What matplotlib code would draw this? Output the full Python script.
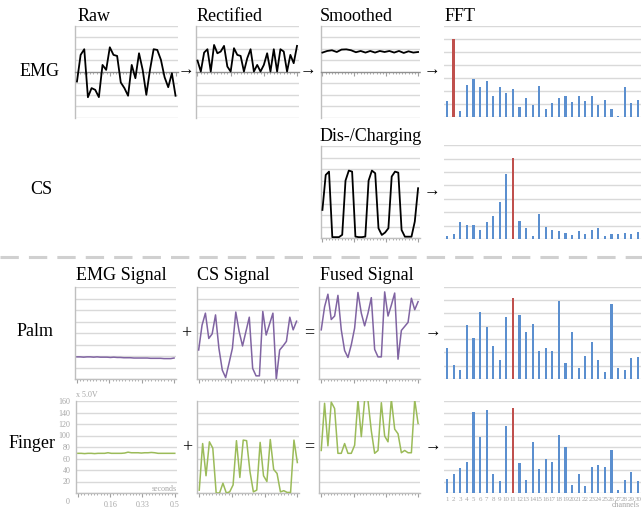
import numpy as np
import matplotlib
matplotlib.use('Agg')
import matplotlib.pyplot as plt
from matplotlib.lines import Line2D

# ---------------- data ----------------
raw_emg = [-0.84, 1.47, 1.96, -2.2, -1.41, -1.56, -2.19, 0.6, 0.17, 2.13, 1.47, 1.38,
           -0.92, -1.41, -2.07, 0.6, -0.55, 1.61, 0.17, -1.99, 0.17, 1.96, 1.9, 1.04,
           -0.46, -1.33, -0.12, -2.07]
rect_emg = [0.98, 0.03, 1.67, 1.96, 0.03, 2.33, 1.61, 1.76, 2.25, 0.46, 0.03, 2.05,
            1.47, 1.38, 0.03, 1.18, 1.96, 0.03, 0.6, 0.03, 0.6, 1.61, 0.03, 1.96,
            0.03, 1.96, 1.76, 0.03, 1.47, 0.75, 2.25]
smooth_emg = [1.67, 1.81, 1.87, 1.72, 1.93, 1.95, 1.87, 1.7, 1.81, 1.67, 1.81, 1.67,
              1.81, 1.72, 1.81, 1.67, 1.81, 1.64, 1.78, 1.67, 1.72]
charging = [2.46, 5.49, 5.78, 0.1, 0.1, 0.1, 0.3, 5.0, 5.87, 5.78, 0.15, 0.1, 0.1,
            0.15, 5.0, 5.87, 5.64, 0.87, 0.29, 0.5, 0.87, 5.35, 5.78, 5.69, 0.72,
            0.14, 0.14, 0.14, 1.45, 4.34]
fft_emg = [1.23, 6.0, 0.46, 2.46, 2.92, 2.33, 2.77, 1.59, 2.33, 1.85, 2.18, 0.74,
           1.49, 0.95, 2.38, 0.62, 1.08, 1.44, 1.64, 1.15, 1.64, 1.23, 1.59, 0.9,
           1.33, 0.64, 0.1, 2.28, 1.05, 1.31]
fft_cs = [0.25, 0.38, 1.25, 1.05, 1.05, 0.7, 1.25, 1.73, 2.75, 4.88, 6.05, 1.35,
          0.8, 0.2, 1.85, 0.9, 0.7, 0.6, 0.45, 0.3, 0.6, 0.35, 0.7, 0.8, 0.2, 0.4,
          0.4, 0.45, 0.4, 0.55]
palm_emg = [39, 39, 38.5, 39, 39, 38.5, 39, 38.5, 38.5, 38.5, 38, 38.5, 38, 38, 37.5,
            37.5, 37.5, 37, 37, 37, 37, 37, 36.5, 36.5, 36.5, 36.5, 36, 36, 36, 37]
palm_cs = [51, 94, 115, 71, 79, 112, 54, 16, 3, 28, 54, 117, 83, 58, 83, 108, 19, 6,
           6, 118, 77, 96, 115, 0, 51, 58, 66, 108, 86, 101]
palm_fused = [86, 126, 148, 104, 110, 146, 86, 50, 38, 60, 89, 151, 115, 93, 115, 142,
              52, 39, 39, 152, 110, 129, 150, 35, 85, 92, 99, 141, 121, 135]
fft_palm = [2.36, 1.04, 0.66, 4.09, 3.1, 5.05, 3.96, 2.51, 1.45, 4.7, 6.14, 4.85,
            3.53, 4.16, 2.1, 2.36, 2.1, 5.94, 1.17, 3.53, 0.79, 1.73, 2.77, 1.45,
            0.53, 5.69, 0.79, 0.66, 1.57, 1.65]
finger_emg = [69, 69, 68.5, 69, 69, 68.5, 69, 69, 69, 70, 69, 69, 69, 69, 69.5, 71,
              70, 70, 70, 69.5, 70, 70, 70.5, 70, 69, 69, 69, 69, 69, 69]
finger_cs = [5, 86, 30, 89, 78, 0, 0, 17, 0, 2, 14, 91, 27, 92, 91, 37, 2, 5, 88, 30,
             20, 93, 41, 34, 2, 4, 1, 1, 92, 53]
finger_fused = [74, 156, 82, 158, 147, 69, 69, 86, 69, 69, 83, 162, 98, 162, 161, 108,
                69, 74, 157, 99, 89, 163, 111, 103, 70, 74, 70, 70, 162, 121]
fft_finger = [1.22, 1.62, 2.17, 2.7, 7.01, 4.87, 7.22, 1.65, 1.07, 5.8, 7.39, 2.58,
              1.16, 4.46, 2.12, 2.96, 2.7, 5.04, 4.0, 0.7, 1.65, 0.58, 2.23, 2.4, 2.29,
              3.77, 0.26, 1.13, 1.8, 1.07]
channels = [str(i) for i in range(1, 31)]
finger_yticks = [20, 40, 60, 80, 100, 120, 140, 160]
time_labels = ['0.16', '0.33', '0.5']

# ---------------- style ----------------
W, H = 642, 508
fig = plt.figure(figsize=(W / 100, H / 100), dpi=100)
SERIF = ['Liberation Serif', 'DejaVu Serif']
GRID = '#d9d9d9'
AXC = '#bfbfbf'
LBL = '#a6a6a6'
BLUE = '#5b8fcf'
RED = '#c0504d'
PURPLE = '#8064a2'
GREEN = '#9bbb59'


def add(x0, y0, x1, y1):
    return fig.add_axes([x0 / W, 1 - y1 / H, (x1 - x0) / W, (y1 - y0) / H])


def line_panel(box, vals, ylim, step, color, lw=1.3, zero_axis=False):
    ax = add(*box)
    t = np.linspace(0, 1, len(vals))
    ax.plot(t, vals, color=color, lw=lw, zorder=3)
    ax.set_xlim(-0.02, 1.02)
    ax.set_ylim(*ylim)
    for v in np.arange(ylim[0], ylim[1] + step / 2, step):
        if zero_axis and v == 0:
            continue
        ax.axhline(v, color=GRID, lw=1.0, zorder=0)
    for s in ['top', 'right']:
        ax.spines[s].set_visible(False)
    ax.spines['left'].set_color(AXC)
    ax.spines['left'].set_linewidth(1.0)
    ax.spines['bottom'].set_color('#909090' if zero_axis else AXC)
    ax.spines['bottom'].set_linewidth(1.0)
    if zero_axis:
        ax.spines['bottom'].set_position(('data', 0))
        ax.spines['bottom'].set_linestyle((0, (1, 1)))
    ax.set_yticks([])
    ax.set_xticks([0, 1 / 3, 2 / 3, 1])
    ax.set_xticks(np.linspace(0, 1, 31), minor=True)
    ax.tick_params(axis='x', which='major', length=3, width=0.8, color='#a0a0a0',
                   labelbottom=False)
    ax.tick_params(axis='x', which='minor', length=1.5, width=0.6, color='#a0a0a0')
    ax.patch.set_alpha(0)
    return ax


def fft_panel(box, vals, red_idx, top):
    ax = add(*box)
    idx = np.arange(1, len(vals) + 1)
    colors = [RED if i == red_idx else BLUE for i in idx]
    widths = [0.42 if i == red_idx else 0.32 for i in idx]
    ax.bar(idx, vals, width=widths, color=colors, zorder=3)
    ax.set_xlim(0.5, 30.5)
    ax.set_ylim(0, top)
    for v in range(0, top + 1):
        ax.axhline(v, color=GRID, lw=1.0, zorder=0)
    for s in ax.spines.values():
        s.set_visible(False)
    ax.set_yticks([])
    ax.set_xticks([])
    ax.patch.set_alpha(0)
    return ax


def title(x, y, s):
    fig.text(x / W, 1 - y / H, s, family=SERIF, fontsize=13, ha='left', va='baseline')


def sym(x, y, s, size=13):
    fig.text(x / W, 1 - y / H, s, family=SERIF, fontsize=size, ha='center', va='center')


# ---------------- row 1: EMG ----------------
line_panel((75, 25.7, 177.5, 118), raw_emg, (-4, 4), 1, 'black', zero_axis=True)
line_panel((195.5, 25.7, 299, 118), rect_emg, (-4, 4), 1, 'black', zero_axis=True)
line_panel((320.5, 25.7, 420, 118), smooth_emg, (-4, 4), 1, 'black', zero_axis=True)
fft_panel((444, 26, 641, 117), fft_emg, 2, 7)
title(78, 21, 'Raw')
title(197, 21, 'Rectified')
title(320, 21, 'Smoothed')
title(445, 21, 'FFT')
sym(40, 72, 'EMG')
sym(186, 71, '→', 12)
sym(308, 71, '→', 12)
sym(432, 71, '→', 12)

# ---------------- row 2: CS ----------------
line_panel((320.5, 146, 420, 238.3), charging, (0, 8), 1, 'black')
fft_panel((444, 145.3, 641, 239), fft_cs, 11, 7)
title(320, 141, 'Dis-/Charging')
sym(41, 190, 'CS')
sym(432, 192, '→', 12)

# separator
fig.add_artist(Line2D([0, 1], [1 - 257 / H] * 2, color='#d0d0d0', lw=2.2,
                      dashes=(6, 3.3), transform=fig.transFigure))

# ---------------- row 3: Palm ----------------
line_panel((75, 287.3, 176, 379.3), palm_emg, (0, 160), 20, PURPLE, lw=1.1)
line_panel((196.7, 287.3, 298.5, 379.3), palm_cs, (0, 160), 20, PURPLE, lw=1.1)
line_panel((319.3, 287.3, 420, 379.3), palm_fused, (0, 160), 20, PURPLE, lw=1.1)
fft_panel((444, 286.7, 641, 378.7), fft_palm, 11, 7)
title(76, 280, 'EMG Signal')
title(197, 280, 'CS Signal')
title(320, 280, 'Fused Signal')
sym(35, 331, 'Palm')
sym(186, 334, '+')
sym(309, 333, '=')
sym(433, 333, '→', 12)

# ---------------- row 4: Finger ----------------
axf = line_panel((76, 401, 176.7, 493), finger_emg, (0, 160), 20, GREEN, lw=1.1)
axf.set_yticks(finger_yticks)
axf.tick_params(axis='y', length=0, pad=4, labelsize=5.8, labelcolor=LBL)
axf.set_xticklabels(['', *time_labels])
axf.tick_params(axis='x', which='major', labelbottom=True, labelsize=5.8,
                labelcolor=LBL, pad=3)
for lab in axf.get_xticklabels() + axf.get_yticklabels():
    lab.set_family(SERIF)
fig.text(70 / W, 1 - 502 / H, '0', family=SERIF, fontsize=5.8, color=LBL,
         ha='right', va='center')
fig.text(76 / W, 1 - 395 / H, 'x 5.0V', family=SERIF, fontsize=5.8, color=LBL,
         ha='left', va='center')
fig.text(177 / W, 1 - 489 / H, 'seconds', family=SERIF, fontsize=5.8, color=LBL,
         ha='right', va='center')
line_panel((197.3, 401, 299.3, 493), finger_cs, (0, 160), 20, GREEN, lw=1.1)
line_panel((319.3, 401, 420, 493), finger_fused, (0, 160), 20, GREEN, lw=1.1)
axb = fft_panel((444, 401, 641, 493), fft_finger, 11, 8)
axb.set_xticks(np.arange(1, 31))
axb.set_xticklabels(channels)
axb.tick_params(axis='x', length=0, pad=3, labelsize=5, labelcolor=LBL)
for lab in axb.get_xticklabels():
    lab.set_family(SERIF)
fig.text(640 / W, 1 - 505 / H, 'channels', family=SERIF, fontsize=5.8, color=LBL,
         ha='right', va='center')
sym(32, 444, 'Finger')
sym(187, 448, '+')
sym(309, 447, '=')
sym(433, 447, '→', 12)

fig.savefig('out.png', dpi=100)
